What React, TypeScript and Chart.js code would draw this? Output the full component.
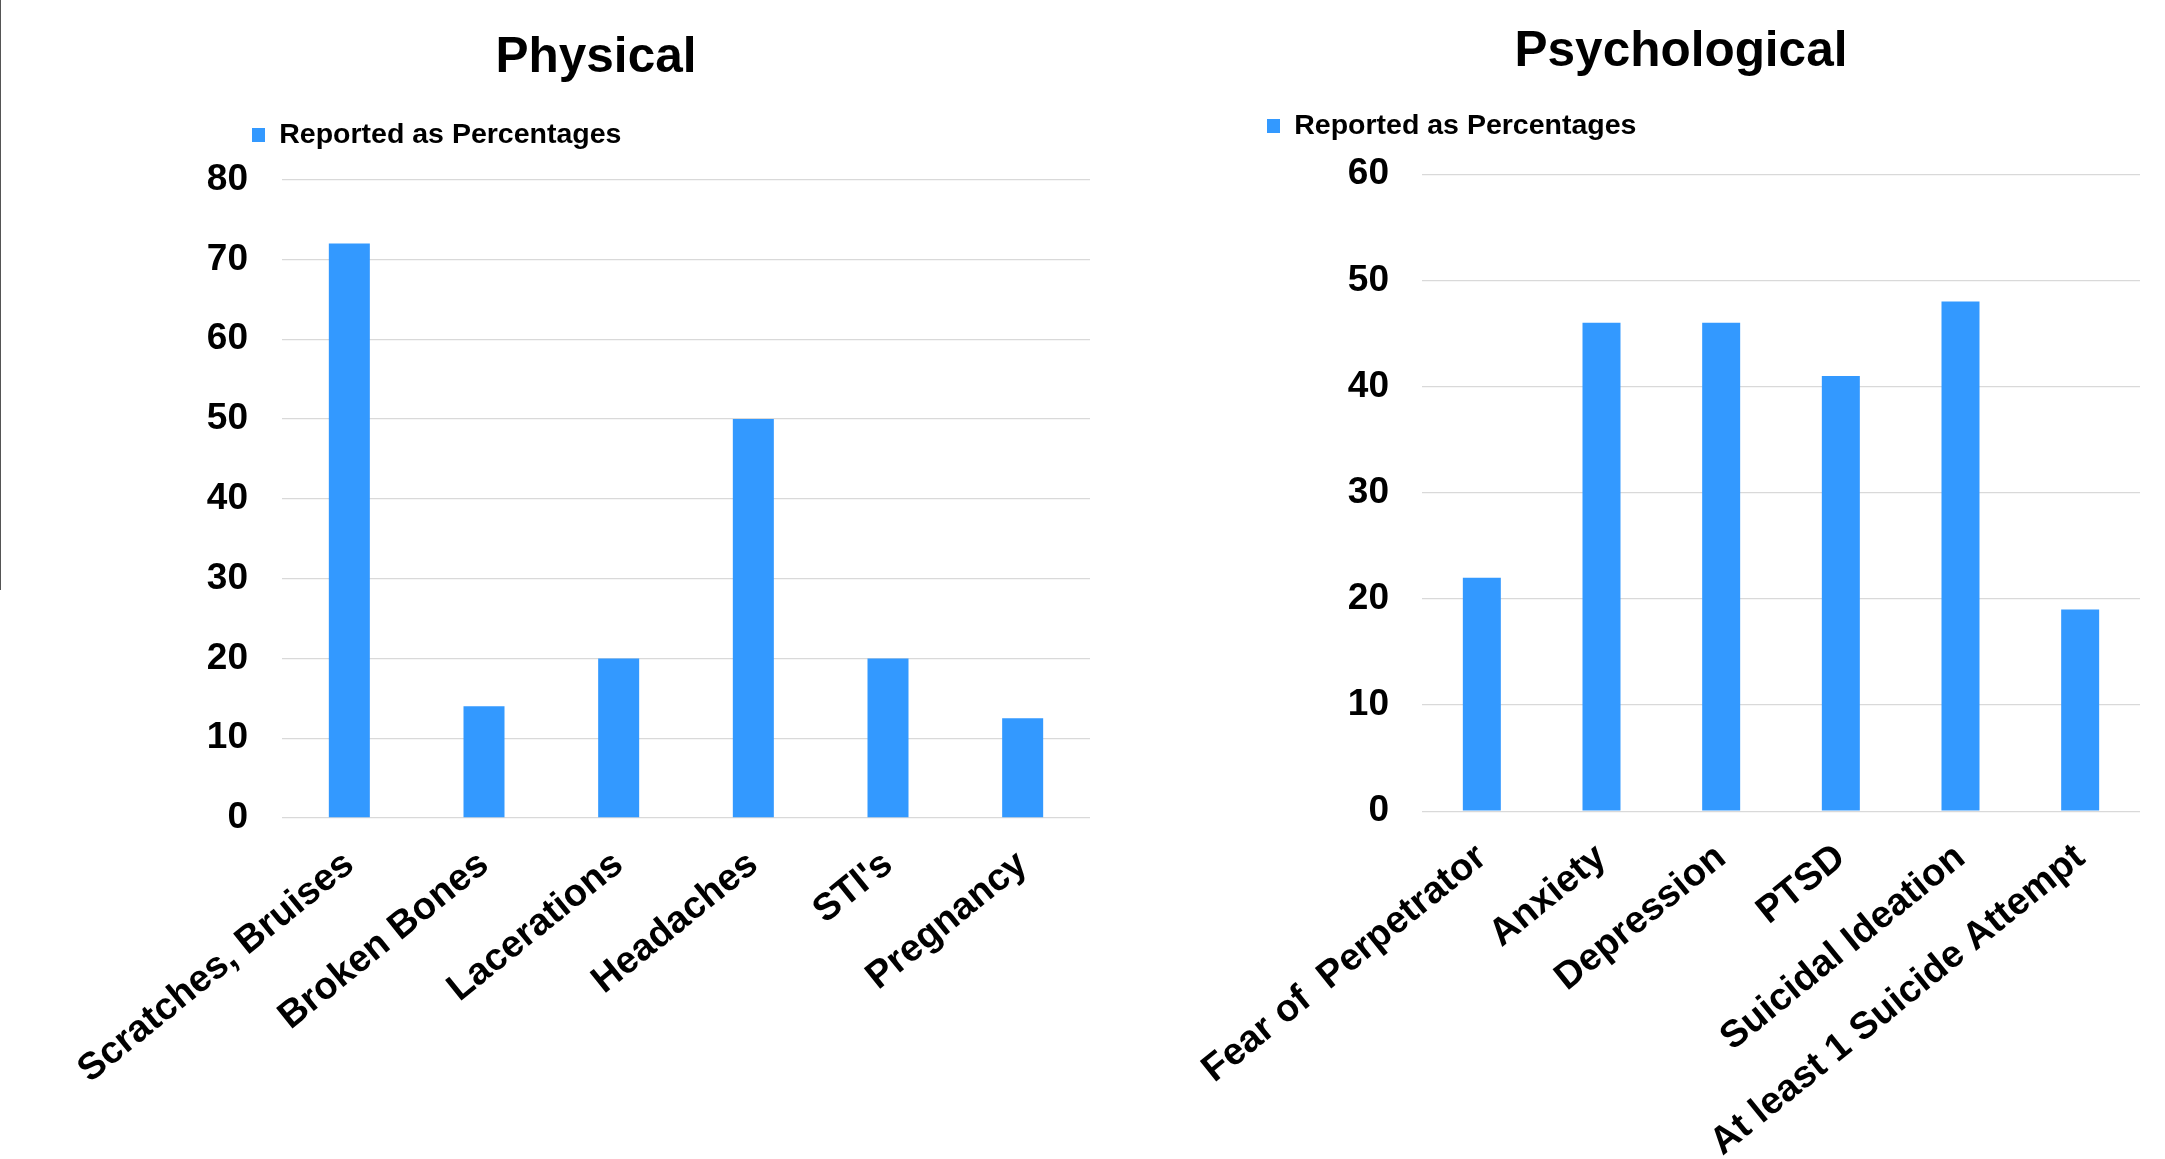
import React, { useEffect, useRef } from 'react';
import { Chart, registerables } from 'chart.js';

Chart.register(...registerables);

const FONT = "'Liberation Sans', Arial, Helvetica, sans-serif";
const BAR_COLOR = '#3399ff';
const GRID_COLOR = '#d9d9d9';
const SERIES_LABEL = 'Reported as Percentages';

// ---- Physical panel data ----
const physicalTitle = 'Physical';
const physicalCategories = ['Scratches, Bruises', 'Broken Bones', 'Lacerations', 'Headaches', "STI's", 'Pregnancy'];
const physicalValues = [72, 14, 20, 50, 20, 12.5];
const physicalYTicks = [0, 10, 20, 30, 40, 50, 60, 70, 80];

// ---- Psychological panel data ----
const psychTitle = 'Psychological';
const psychCategories = ['Fear of  Perpetrator', 'Anxiety', 'Depression', 'PTSD', 'Suicidal Ideation', 'At least 1 Suicide Attempt'];
const psychValues = [22, 46, 46, 41, 48, 19];
const psychYTicks = [0, 10, 20, 30, 40, 50, 60];

const CANVAS_H = 1159;
const TITLE_SIZE = 49.5;
const LEGEND_SIZE = 28.5;
const TICK_SIZE = 37;
const XLABEL_SIZE = 38;
const LABEL_ROTATION = 39;

// Places the title and legend blocks at given positions after layout.
const placeHeader = {
  id: 'placeHeader',
  afterLayout(chart: any, _args: any, opts: any) {
    const t = chart.titleBlock;
    if (t && opts.titleX != null) {
      const h = t.height;
      t.left = opts.titleX - 600;
      t.right = opts.titleX + 600;
      t.top = opts.titleY - h / 2;
      t.bottom = t.top + h;
    }
    const lg = chart.legend;
    if (lg && opts.legendX != null) {
      const w = lg.width;
      const h = lg.height;
      const pad = lg.options.labels.padding;
      lg.left = opts.legendX - pad;
      lg.right = lg.left + w;
      lg.top = opts.legendY - h / 2;
      lg.bottom = lg.top + h;
    }
  },
};

type Geo = {
  plotLeft: number;
  plotRight: number;
  plotTop: number;
  plotBottom: number;
  titleX: number;
  titleY: number;
  legendX: number;
  legendY: number;
  yPad: number;
  barFrac: number;
};

type PanelProps = {
  x: number;
  width: number;
  title: string;
  categories: string[];
  values: number[];
  yTicks: number[];
  geo: Geo;
};

function Panel({ x, width, title, categories, values, yTicks, geo }: PanelProps) {
  const ref = useRef<HTMLCanvasElement | null>(null);

  useEffect(() => {
    if (!ref.current) return;
    const titleH = TITLE_SIZE * 1.2;
    const legendH = LEGEND_SIZE + 20;
    const tickFont = { family: FONT, size: TICK_SIZE, weight: 'bold' as const };
    const xFont = { family: FONT, size: XLABEL_SIZE, weight: 'bold' as const };
    const chart = new Chart(ref.current, {
      type: 'bar',
      data: {
        labels: categories,
        datasets: [
          {
            label: SERIES_LABEL,
            data: values,
            backgroundColor: BAR_COLOR,
            borderWidth: 0,
            barPercentage: geo.barFrac,
            categoryPercentage: 1,
          },
        ],
      },
      options: {
        responsive: false,
        maintainAspectRatio: false,
        animation: false,
        layout: {
          padding: {
            left: 0,
            right: width - geo.plotRight,
            top: geo.plotTop - titleH - legendH,
            bottom: 0,
          },
        },
        plugins: {
          title: {
            display: true,
            text: title,
            color: '#000',
            padding: 0,
            font: { family: FONT, size: TITLE_SIZE, weight: 'bold', lineHeight: 1.2 },
          },
          legend: {
            display: true,
            position: 'top',
            align: 'start',
            labels: {
              boxWidth: 13,
              boxHeight: 14,
              padding: 10,
              color: '#000',
              font: { family: FONT, size: LEGEND_SIZE, weight: 'bold' },
            },
          },
          tooltip: { enabled: false },
          placeHeader: {
            titleX: geo.titleX,
            titleY: geo.titleY,
            legendX: geo.legendX,
            legendY: geo.legendY,
          },
        } as any,
        scales: {
          x: {
            grid: { display: false, drawTicks: false },
            border: { display: false },
            ticks: {
              color: '#000',
              font: xFont,
              minRotation: LABEL_ROTATION,
              maxRotation: LABEL_ROTATION,
              padding: 24,
              autoSkip: false,
            },
            afterFit: (s: any) => {
              s.height = CANVAS_H - geo.plotBottom;
              s.paddingLeft = 0;
              s.paddingRight = 0;
            },
          },
          y: {
            min: yTicks[0],
            max: yTicks[yTicks.length - 1],
            ticks: {
              stepSize: yTicks[1] - yTicks[0],
              color: '#000',
              font: tickFont,
              padding: geo.yPad,
            },
            grid: { color: GRID_COLOR, lineWidth: 1.3, drawTicks: false },
            border: { display: false },
            afterFit: (s: any) => {
              s.width = geo.plotLeft;
            },
          },
        },
      },
      plugins: [placeHeader],
    });
    return () => chart.destroy();
  }, []);

  return (
    <canvas
      ref={ref}
      width={width}
      height={CANVAS_H}
      style={{ position: 'absolute', left: x, top: 0, width, height: CANVAS_H }}
    />
  );
}

export default function App() {
  useEffect(() => {
    document.body.style.margin = '0';
    document.body.style.overflow = 'hidden';
    document.body.style.background = '#fff';
  }, []);

  return (
    <div style={{ position: 'relative', width: 2165, height: CANVAS_H, background: '#fff', overflow: 'hidden' }}>
      <div style={{ position: 'absolute', left: 0, top: 0, width: 1, height: 590, background: '#555' }} />
      <Panel
        x={0}
        width={1186}
        title={physicalTitle}
        categories={physicalCategories}
        values={physicalValues}
        yTicks={physicalYTicks}
        geo={{
          plotLeft: 282,
          plotRight: 1090,
          plotTop: 179.6,
          plotBottom: 818,
          titleX: 596,
          titleY: 58,
          legendX: 252,
          legendY: 135,
          yPad: 34,
          barFrac: 0.3045,
        }}
      />
      <Panel
        x={1186}
        width={979}
        title={psychTitle}
        categories={psychCategories}
        values={psychValues}
        yTicks={psychYTicks}
        geo={{
          plotLeft: 236,
          plotRight: 954,
          plotTop: 174.2,
          plotBottom: 811.2,
          titleX: 495,
          titleY: 52.5,
          legendX: 81,
          legendY: 126,
          yPad: 33,
          barFrac: 0.3175,
        }}
      />
    </div>
  );
}
